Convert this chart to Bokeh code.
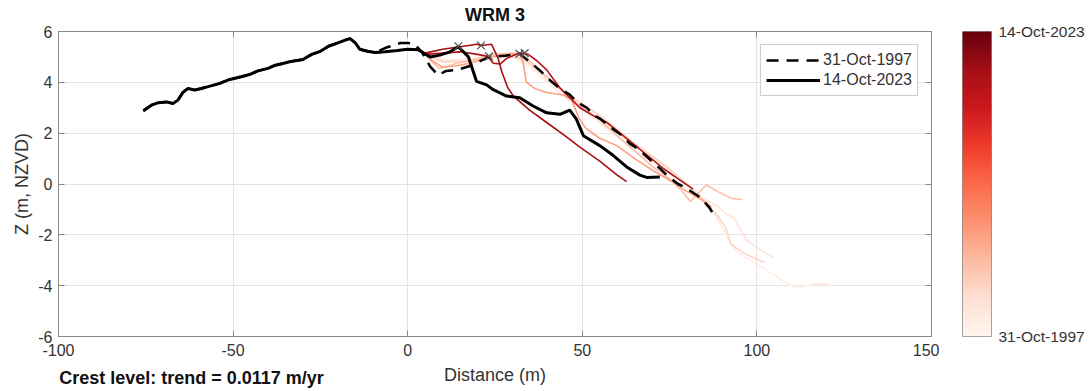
import numpy as np
from bokeh.plotting import figure
from bokeh.layouts import row
from bokeh.models import (LinearColorMapper, FixedTicker, LinearAxis, Legend,
                          LegendItem, ColumnDataSource, Range1d, CustomLabelingPolicy)
from bokeh.palettes import Reds9
from bokeh.embed import file_html
from bokeh.resources import INLINE

# ---------------- data ----------------
title_text = "WRM 3"
x_ticks = [-100, -50, 0, 50, 100, 150]
y_ticks = [-6, -4, -2, 0, 2, 4, 6]
date_first = 1997.83   # 31-Oct-1997
date_last = 2023.79    # 14-Oct-2023
label_first = "31-Oct-1997"
label_last = "14-Oct-2023"
crest_note = "Crest level: trend = 0.0117 m/yr"

land_x = [-75.7, -73.4, -71.4, -69.1, -67.2, -65.8, -64.4, -62.9, -61.0, -59.1,
          -57.2, -54.0, -51.5, -47.7, -45.0, -42.9, -40.0, -38.2, -35.5, -33.5,
          -30.0, -27.5, -25.0, -22.7, -20.0, -17.5, -16.5, -15.0, -13.7, -11.5, -9.4]
land_z = [2.88, 3.10, 3.20, 3.23, 3.17, 3.30, 3.60, 3.76, 3.70, 3.76,
          3.83, 3.95, 4.09, 4.22, 4.32, 4.45, 4.55, 4.66, 4.75, 4.82,
          4.90, 5.10, 5.22, 5.42, 5.55, 5.68, 5.72, 5.55, 5.30, 5.22, 5.17]
mid_x = [-6.5, -3.0, 0.0, 3.0]
mid_z = [5.20, 5.25, 5.30, 5.28]

s1999_x = [5, 10, 15, 20, 25, 30, 35, 45, 55, 65, 75, 80, 85, 88, 90.5, 92.6, 95, 98.4, 104, 108, 111.5, 114, 117, 121]
s1999_z = [5.2, 4.9, 4.9, 5.0, 5.1, 5.0, 4.6, 3.4, 2.4, 1.3, 0.4, -0.2, -0.7, -1.2, -1.8, -2.4, -2.75, -3.0, -3.5, -3.85, -4.1, -4.0, -3.92, -3.95]
s2000_x = [5, 10, 15, 20, 25, 30, 35, 45, 55, 65, 75, 80, 85, 89, 91.5, 93.5, 95.5, 97, 100, 104.6]
s2000_z = [5.15, 4.85, 4.85, 4.95, 5.05, 5.05, 4.7, 3.5, 2.55, 1.5, 0.55, 0.0, -0.6, -0.9, -1.2, -1.35, -1.85, -2.2, -2.5, -2.89]
s2002_x = [5, 10, 15, 20, 25, 30, 35, 45, 55, 65, 75, 80, 86, 89, 91, 92.6, 96, 99, 102.2]
s2002_z = [5.1, 4.8, 4.8, 4.9, 5.0, 5.1, 4.75, 3.6, 2.7, 1.6, 0.6, 0.0, -0.8, -1.3, -1.7, -2.37, -2.7, -2.9, -3.08]
s2004_x = [5, 7, 9, 11, 14, 18, 22, 25, 30, 33, 36, 40, 45, 50, 55, 60, 65, 70, 75, 78, 81, 83, 85.5, 88.8, 92.6, 95.9]
s2004_z = [5.1, 4.8, 4.55, 4.6, 4.75, 4.85, 5.0, 5.1, 5.15, 5.1, 4.7, 4.2, 3.6, 3.0, 2.5, 1.9, 1.3, 0.7, 0.2, -0.2, -0.69, -0.4, -0.04, -0.3, -0.56, -0.62]
s2006_x = [5, 7, 10, 14, 18, 23.5, 28, 32, 33, 34, 36.5, 39.8, 44.6, 47, 49, 51, 55, 60, 65, 70, 75, 80, 84, 87]
s2006_z = [5.15, 4.85, 4.6, 4.65, 4.75, 5.0, 5.1, 5.12, 4.8, 4.0, 3.75, 3.6, 3.5, 3.3, 2.6, 2.2, 1.8, 1.5, 1.0, 0.55, 0.15, -0.3, -0.6, -0.9]
s2019_x = [5, 10, 15, 20, 23, 24.5, 26.5, 28.3, 32.1, 34.5, 37, 39.8, 43.6, 49.3, 53, 57, 64.6, 73.2, 78, 81.7]
s2019_z = [5.1, 5.15, 5.2, 5.1, 5.02, 4.75, 4.72, 4.94, 5.16, 5.1, 4.85, 4.49, 3.78, 3.0, 2.7, 2.42, 1.58, 0.61, 0.15, -0.2]
s2020_x = [5, 10, 15, 19.8, 21, 24, 25.9, 27, 28.7, 30.2, 35, 39.8, 45, 49.3, 55, 60, 62.7]
s2020_z = [5.15, 5.3, 5.4, 5.5, 5.45, 5.5, 4.94, 4.4, 3.78, 3.47, 2.9, 2.42, 1.9, 1.45, 0.9, 0.35, 0.09]
survey_years = [1999.0, 2000.5, 2002.0, 2004.0, 2006.5, 2019.5, 2020.5]

first_x = [-6.5, -2.0, 0.0, 2.0, 4.0, 6.4, 8.7, 11.0, 14.4, 18.0, 21.0, 23.5, 28.0, 32.0, 35.0, 38.0,
           41.0, 44.0, 46.4, 48.7, 51.3, 53.4, 55.3, 58.8, 60.8, 63.7, 66.0, 68.0, 72.7, 74.1,
           77.4, 79.0, 82.7, 84.1, 86.5, 88.0]
first_z = [5.35, 5.55, 5.55, 5.5, 5.2, 4.63, 4.28, 4.45, 4.5, 4.65, 4.85, 5.0, 5.05, 5.12, 4.8, 4.45,
           4.05, 3.71, 3.52, 3.2, 3.0, 2.7, 2.55, 2.16, 1.97, 1.58, 1.38, 1.13, 0.55, 0.36,
           0.0, -0.1, -0.43, -0.56, -0.95, -1.3]
last_x = [6.4, 9.2, 12.1, 14.5, 17.4, 19.7, 22.6, 24.5, 28.3, 32.1, 35.9, 39.8, 43.6, 46.4, 48.3,
          50.3, 55.0, 58.8, 62.7, 66.5, 68.4, 72.2]
last_z = [5.0, 5.07, 5.2, 5.4, 5.0, 4.04, 3.9, 3.71, 3.46, 3.39, 3.07, 2.8, 2.74, 2.91, 2.55,
          1.9, 1.51, 1.13, 0.67, 0.35, 0.26, 0.28]

crest_x = [14.5, 21.0, 23.3, 32.0, 33.5]
crest_z = [5.42, 5.45, 5.02, 5.12, 5.15]

# ---------------- style ----------------
FONT = "Liberation Sans"
TXT = "#333333"
AX = "#8a8a8a"
GRID = "#e4e4e4"
NOTE_AT = -61.9   # horizontal anchor (axis units) of the note's centre

light_to_dark = Reds9[::-1]
rgb = np.array([[int(c[i:i + 2], 16) for i in (1, 3, 5)] for c in light_to_dark], float)
t = np.linspace(0, 1, 256)
k = np.linspace(0, 1, len(rgb))
pal = ["#%02x%02x%02x" % tuple(int(round(np.interp(tt, k, rgb[:, j]))) for j in range(3)) for tt in t]
mapper = LinearColorMapper(palette=pal, low=date_first, high=date_last)

hide_labels = CustomLabelingPolicy(code="""
try { for (const i of Array.from(indices)) { indices.unset(i) } } catch (e) {}
return indices
""")

p = figure(frame_width=873, frame_height=305, output_backend="svg", toolbar_location=None,
           x_range=Range1d(-100, 150), y_range=Range1d(-6, 6),
           min_border_left=58, min_border_right=8, min_border_top=30, min_border_bottom=56,
           background_fill_color="white", border_fill_color="white")

p.title.text = title_text
p.title.align = "center"
p.title.text_font = FONT
p.title.text_font_size = "18px"
p.title.text_font_style = "bold"
p.title.text_color = "#111111"
p.title.standoff = 5

for ax, tk in ((p.xaxis[0], x_ticks), (p.yaxis[0], y_ticks)):
    ax.ticker = FixedTicker(ticks=tk)
    ax.major_label_overrides = {v: str(v) for v in tk}
    ax.major_tick_in = 6
    ax.major_tick_out = 0
    ax.minor_tick_line_color = None
    ax.axis_line_color = AX
    ax.major_tick_line_color = AX
    ax.major_label_text_font = FONT
    ax.major_label_text_font_size = "16px"
    ax.major_label_text_color = TXT
    ax.axis_label_text_font = FONT
    ax.axis_label_text_font_size = "18px"
    ax.axis_label_text_font_style = "normal"
    ax.axis_label_text_color = TXT
p.xaxis[0].axis_label = "Distance (m)"
p.yaxis[0].axis_label = "Z (m, NZVD)"
p.xaxis[0].major_label_standoff = 7
p.xaxis[0].axis_label_standoff = 6
p.yaxis[0].major_label_standoff = 6
p.yaxis[0].axis_label_standoff = 3

for loc, tk in (("above", x_ticks), ("right", y_ticks)):
    a = LinearAxis(ticker=FixedTicker(ticks=tk), major_tick_in=6, major_tick_out=0,
                   minor_tick_line_color=None, axis_line_color=AX, major_tick_line_color=AX,
                   major_label_text_font_size="1px", major_label_standoff=0,
                   major_label_policy=hide_labels)
    p.add_layout(a, loc)

# the note below the axis, drawn as the single label of a bare extra axis
note_axis = LinearAxis(ticker=FixedTicker(ticks=[NOTE_AT]),
                       major_label_overrides={NOTE_AT: crest_note},
                       major_label_standoff=-20,
                       major_label_text_font=FONT, major_label_text_font_size="18px",
                       major_label_text_font_style="bold", major_label_text_color="#111111",
                       axis_line_color=None, major_tick_line_color=None,
                       minor_tick_line_color=None, major_tick_in=0, major_tick_out=0,
                       minor_tick_in=0, minor_tick_out=0)
p.add_layout(note_axis, "below")

p.xgrid.ticker = FixedTicker(ticks=x_ticks)
p.ygrid.ticker = FixedTicker(ticks=y_ticks)
p.xgrid.grid_line_color = GRID
p.ygrid.grid_line_color = GRID
p.outline_line_color = AX

seaward = [(s1999_x, s1999_z), (s2000_x, s2000_z), (s2002_x, s2002_z), (s2004_x, s2004_z),
           (s2006_x, s2006_z), (s2019_x, s2019_z), (s2020_x, s2020_z)]
xs = [land_x + mid_x + sx for sx, sz in seaward]
ys = [land_z + mid_z + sz for sx, sz in seaward]
src = ColumnDataSource(dict(xs=xs, ys=ys, year=survey_years))
p.multi_line("xs", "ys", source=src, line_width=1.6,
             line_color=dict(field="year", transform=mapper))

r_first = p.line(land_x + first_x, land_z + first_z, line_color="black", line_width=2.5,
                 line_dash="12 8")
r_last = p.line(land_x + mid_x + last_x, land_z + mid_z + last_z, line_color="black",
                line_width=3)

p.scatter(crest_x, crest_z, marker="x", size=11, line_color="#555555", line_width=1.3)

legend = Legend(items=[LegendItem(label=label_first, renderers=[r_first]),
                       LegendItem(label=label_last, renderers=[r_last])],
                location="top_right", margin=13, padding=5, spacing=0,
                glyph_width=54, glyph_height=20, label_height=20, label_standoff=3,
                label_text_font=FONT, label_text_font_size="16px", label_text_color=TXT,
                border_line_color="#999999", background_fill_alpha=1)
p.add_layout(legend)

cb = figure(frame_width=29, frame_height=305, output_backend="svg", toolbar_location=None,
            x_range=Range1d(0, 1), y_range=Range1d(date_first, date_last),
            min_border_left=23, min_border_right=98, min_border_top=30, min_border_bottom=56,
            x_axis_location=None, y_axis_location=None,
            background_fill_color="white", border_fill_color="white")
cb.grid.visible = False
cb.outline_line_color = AX
cb.image(image=[np.linspace(date_first, date_last, 256).reshape(256, 1)], x=0, y=date_first,
         dw=1, dh=date_last - date_first, color_mapper=mapper)
cb_axis = LinearAxis(ticker=FixedTicker(ticks=[date_first, date_last]),
                     major_label_overrides={date_first: label_first, date_last: label_last},
                     major_tick_line_color=None, minor_tick_line_color=None,
                     major_tick_in=0, major_tick_out=0, minor_tick_out=0,
                     axis_line_color=None, major_label_standoff=7,
                     major_label_text_font=FONT, major_label_text_font_size="15.5px",
                     major_label_text_color=TXT)
cb.add_layout(cb_axis, "right")

layout = row(p, cb)
open("out.html", "w").write(file_html(layout, INLINE))
